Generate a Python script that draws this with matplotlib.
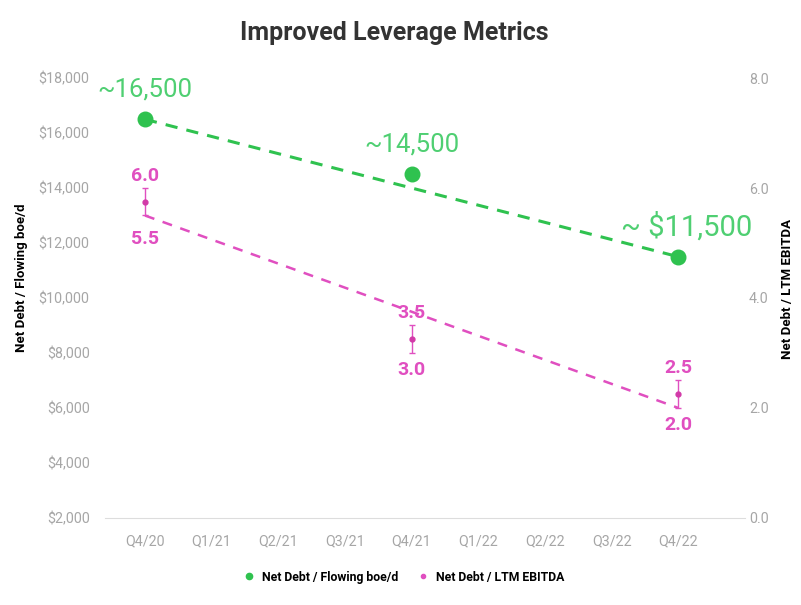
import matplotlib.pyplot as plt
from matplotlib.lines import Line2D

# data
quarters = ['Q4/20', 'Q1/21', 'Q2/21', 'Q3/21', 'Q4/21', 'Q1/22', 'Q2/22', 'Q3/22', 'Q4/22']
point_idx = [0, 4, 8]
debt_per_boe = [16500, 14500, 11500]
boe_labels = ['~16,500', '~14,500', '~ $11,500']
ebitda_low = [5.5, 3.0, 2.0]
ebitda_high = [6.0, 3.5, 2.5]
left_ticks = [2000, 4000, 6000, 8000, 10000, 12000, 14000, 16000, 18000]
right_ticks = [0, 2, 4, 6, 8]

green = '#2fc24f'
green_txt = '#4fcf72'
pink = '#e04fc0'
pink_dark = '#d23aa8'
gray = '#a6a6a6'

plt.rcParams['font.family'] = ['Roboto', 'DejaVu Sans']

fig = plt.figure(figsize=(8.01, 6.05), dpi=100)
ax = fig.add_axes([0.131, 0.144, 0.799, 0.727])
ax2 = ax.twinx()

# green series: points + dashed trend between first and last
ax.plot([point_idx[0], point_idx[-1]], [debt_per_boe[0], debt_per_boe[-1]],
        color=green, lw=2.2, ls=(0, (4, 3)), zorder=2)
ax.scatter(point_idx, debt_per_boe, s=110, color=green, zorder=3)
for x, y, t in zip(point_idx, debt_per_boe, boe_labels):
    wide = t.startswith('~ $')
    ax.annotate(t, (x, y), xytext=(8 if wide else 0, 30), textcoords='offset pixels',
                ha='center', va='center', fontsize=21 if wide else 18.5, color=green_txt)

# pink series: range with error bars + dashed trend
mid = [(lo + hi) / 2 for lo, hi in zip(ebitda_low, ebitda_high)]
err = [[m - lo for m, lo in zip(mid, ebitda_low)], [hi - m for m, hi in zip(mid, ebitda_high)]]
ax2.plot([point_idx[0], point_idx[-1]], [ebitda_low[0], ebitda_low[-1]],
         color=pink, lw=1.8, ls=(0, (4, 3.5)), zorder=2)
ax2.errorbar(point_idx, mid, yerr=err, fmt='o', ms=3.5, color=pink_dark,
             ecolor=pink, elinewidth=1, capsize=2.5, capthick=1, zorder=3)
for x, lo, hi in zip(point_idx, ebitda_low, ebitda_high):
    ax2.annotate(f'{hi:.1f}', (x, hi), xytext=(0, 12), textcoords='offset pixels',
                 ha='center', va='center', fontsize=14, fontweight='bold', color=pink)
    ax2.annotate(f'{lo:.1f}', (x, lo), xytext=(0, -17 if x else -24), textcoords='offset pixels',
                 ha='center', va='center', fontsize=14, fontweight='bold', color=pink)

ax.set_xlim(-0.6, 9.0)
ax.set_xticks(range(len(quarters)))
ax.set_xticklabels(quarters)
ax.set_ylim(2000, 18000)
ax.set_yticks(left_ticks)
ax.set_yticklabels(['${:,}'.format(v) for v in left_ticks])
ax2.set_ylim(0, 8)
ax2.set_yticks(right_ticks)
ax2.set_yticklabels([f'{v:.1f}' for v in right_ticks])

for a in (ax, ax2):
    for s in a.spines.values():
        s.set_visible(False)
    a.tick_params(length=0, colors=gray, labelsize=10.3)
ax.spines['bottom'].set_visible(True)
ax.spines['bottom'].set_color('#dddddd')
ax.tick_params(axis='x', pad=12)
ax.tick_params(axis='y', pad=11)
ax2.tick_params(axis='y', pad=3)

ax.set_ylabel('Net Debt / Flowing boe/d', fontsize=9.5, fontweight='bold')
ax.yaxis.set_label_coords(-0.12, 0.545)
ax2.set_ylabel('Net Debt / LTM EBITDA', fontsize=9.5, fontweight='bold')
ax2.yaxis.set_label_coords(1.057, 0.52)

fig.suptitle('Improved Leverage Metrics', x=0.492, y=0.966, fontsize=18, fontweight='bold', color='#333333')

handles = [Line2D([], [], ls='', marker='o', ms=4.5, color=green),
           Line2D([], [], ls='', marker='o', ms=3, color=pink)]
fig.legend(handles, ['Net Debt / Flowing boe/d', 'Net Debt / LTM EBITDA'], loc='center',
           bbox_to_anchor=(0.5, 0.046), ncol=2, frameon=False,
           handletextpad=0.1, columnspacing=1.0, prop={'weight': 'bold', 'size': 8.8})

fig.savefig('out.png', dpi=100)
